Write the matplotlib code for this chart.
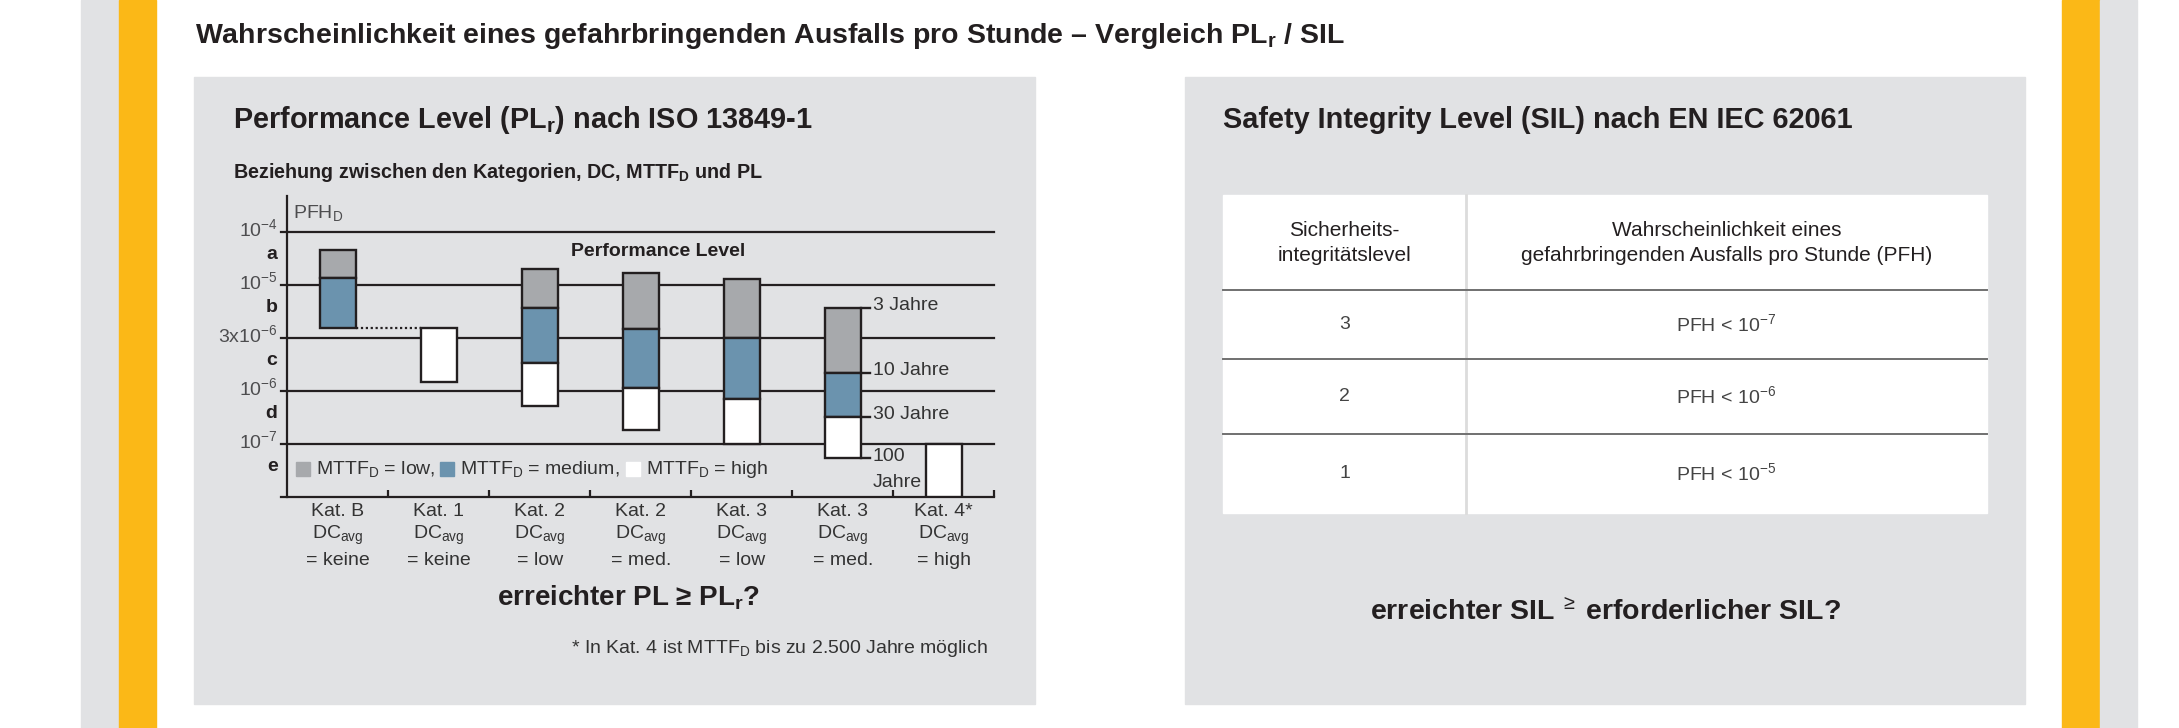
import numpy as np
import matplotlib.pyplot as plt
from matplotlib.patches import Rectangle
from matplotlib.ticker import NullLocator

plt.rcParams['font.family'] = ['Liberation Sans', 'DejaVu Sans']
plt.rcParams['mathtext.fontset'] = 'custom'
plt.rcParams['mathtext.rm'] = 'Liberation Sans'
plt.rcParams['mathtext.it'] = 'Liberation Sans:italic'
plt.rcParams['mathtext.bf'] = 'Liberation Sans:bold'

# Data: categories and PFH_D ranges (upper, lower) per MTTF_D class
categories = ['Kat. B', 'Kat. 1', 'Kat. 2', 'Kat. 2', 'Kat. 3', 'Kat. 3', 'Kat. 4*']
dc_avg = ['keine', 'keine', 'low', 'med.', 'low', 'med.', 'high']
mttf_low = [(4.6e-5, 1.35e-5), None, (2.0e-5, 5.9e-6), (1.7e-5, 3.66e-6),
            (1.3e-5, 3.0e-6), (5.9e-6, 1.45e-6), None]
mttf_med = [(1.35e-5, 3.8e-6), None, (5.9e-6, 1.78e-6), (3.66e-6, 1.07e-6),
            (3.0e-6, 7.1e-7), (1.45e-6, 3.16e-7), None]
mttf_high = [None, (3.8e-6, 1.2e-6), (1.78e-6, 5.2e-7), (1.07e-6, 1.84e-7),
             (7.1e-7, 1.0e-7), (3.16e-7, 5.4e-8), (1.0e-7, 1.0e-8)]
legend_labels = ['low', 'medium', 'high']

pfh_lines = [1e-4, 1e-5, 3e-6, 1e-6, 1e-7]
pfh_line_labels = ['10$^{-4}$', '10$^{-5}$', '3x10$^{-6}$', '10$^{-6}$', '10$^{-7}$']
pl_names = ['a', 'b', 'c', 'd', 'e']
pl_bounds = [1e-4, 1e-5, 3e-6, 1e-6, 1e-7, 1e-8]
mttf_years = ['3 Jahre', '10 Jahre', '30 Jahre', '100\nJahre']

sil_levels = ['3', '2', '1']
sil_pfh_exp = [-7, -6, -5]

# colours
dark = '#231f20'
panel = '#e1e2e4'
yellow = '#fbb817'
c_low = '#a7a9ac'
c_med = '#6b93ae'
c_high = 'white'

# PFH axis: equal spacing between the PL boundaries (log inside each band)
band_pfh = [1e-8, 1e-7, 1e-6, 3e-6, 1e-5, 1e-4, 1e-3]
band_pos = [0, 1, 2, 3, 4, 5, 6]


def fwd(v):
    return np.interp(np.log10(np.clip(v, 1e-12, None)), np.log10(band_pfh), band_pos)


def inv(p):
    return 10 ** np.interp(p, band_pos, np.log10(band_pfh))


W, H = 2179, 728
fig = plt.figure(figsize=(W / 100, H / 100), dpi=100)

# background layer in pixel coordinates
bg = fig.add_axes([0, 0, 1, 1])
bg.set_xlim(0, W)
bg.set_ylim(H, 0)
bg.axis('off')

bg.add_patch(Rectangle((81, 0), 38, H, color=panel))
bg.add_patch(Rectangle((119, 0), 37, H, color=yellow))
bg.add_patch(Rectangle((2062, 0), 38, H, color=yellow))
bg.add_patch(Rectangle((2100, 0), 37, H, color=panel))
bg.add_patch(Rectangle((194, 77), 841, 627, color=panel))
bg.add_patch(Rectangle((1185, 77), 840, 627, color=panel))

bg.text(195, 43, 'Wahrscheinlichkeit eines gefahrbringenden Ausfalls pro Stunde – Vergleich PL$_\\mathbf{r}$ / SIL',
        fontsize=20.5, fontweight='bold', color=dark, va='baseline')
bg.text(233, 128, 'Performance Level (PL$_\\mathbf{r}$) nach ISO 13849-1',
        fontsize=20.8, fontweight='bold', color=dark, va='baseline')
bg.text(233, 178, 'Beziehung zwischen den Kategorien, DC, MTTF$_\\mathbf{D}$ und PL',
        fontsize=14.2, fontweight='bold', color=dark, va='baseline')
bg.text(1223, 128, 'Safety Integrity Level (SIL) nach EN IEC 62061',
        fontsize=20.8, fontweight='bold', color=dark, va='baseline')

# legend row inside the chart
leg_x = [296, 440, 626]
for col, lbl, x in zip([c_low, c_med, c_high], legend_labels, leg_x):
    bg.add_patch(Rectangle((x, 462), 14, 14, color=col, zorder=5))
    bg.text(x + 20, 469, 'MTTF$_\\mathrm{D}$ = ' + lbl + (',' if lbl != 'high' else ''),
            fontsize=14, color='#333333', va='center', zorder=5)

bg.text(629, 605, 'erreichter PL ≥ PL$_\\mathbf{r}$?', fontsize=20, fontweight='bold',
        color=dark, ha='center', va='baseline')
bg.text(988, 653, '* In Kat. 4 ist MTTF$_\\mathrm{D}$ bis zu 2.500 Jahre möglich',
        fontsize=14, color='#333333', ha='right', va='baseline')

# SIL table
bg.add_patch(Rectangle((1223, 195), 764, 318, color='white'))
bg.plot([1466, 1466], [195, 513], color='#dcdcdc', lw=2)
for y in [290, 359, 434]:
    bg.plot([1223, 1987], [y, y], color='#707070', lw=1.4)
bg.text(1344.5, 243, 'Sicherheits-\nintegritätslevel', fontsize=15, color=dark,
        ha='center', va='center', linespacing=1.35)
bg.text(1726.5, 243, 'Wahrscheinlichkeit eines\ngefahrbringenden Ausfalls pro Stunde (PFH)',
        fontsize=15, color=dark, ha='center', va='center', linespacing=1.35)
row_y = [324.5, 396.5, 473.5]
for y, lvl, e in zip(row_y, sil_levels, sil_pfh_exp):
    bg.text(1344.5, y, lvl, fontsize=14, color='#444444', ha='center', va='center')
    bg.text(1726.5, y, 'PFH < 10$^{%d}$' % e, fontsize=14, color='#444444', ha='center', va='center')

bg.text(1605, 620, 'erreichter SIL$\\;{}^{\\geq}\\;$erforderlicher SIL?', fontsize=20.5,
        fontweight='bold', color=dark, ha='center', va='baseline')

# chart axes
ax = fig.add_axes([287.3 / W, 231.3 / H, 707 / W, 300.5 / H])
ax.set_yscale('function', functions=(fwd, inv))
ax.set_xlim(-0.5, 6.5)
ax.set_ylim(1e-8, inv(5.68))
ax.patch.set_alpha(0)
for s in ax.spines.values():
    s.set_visible(False)
ax.set_yticks([])
ax.yaxis.set_minor_locator(NullLocator())
ax.set_xticks(np.arange(0.5, 7, 1))
ax.tick_params(axis='x', direction='in', length=5, width=1.6, color=dark, labelbottom=False)

# PL boundary lines, axis lines
for v in pfh_lines + [1e-8]:
    ax.plot([-0.56, 6.5], [v, v], color=dark, lw=1.6, clip_on=False, zorder=2)
ax.plot([-0.5, -0.5], [1e-8, inv(5.68)], color=dark, lw=1.6, clip_on=False, zorder=2)

for v, lbl in zip(pfh_lines, pfh_line_labels):
    ax.annotate(lbl, xy=(-0.5, v), xytext=(-7, 2), textcoords='offset points',
                ha='right', va='center', fontsize=14, color='#4d4d4f')
for i, name in enumerate(pl_names):
    v = np.sqrt(pl_bounds[i] * pl_bounds[i + 1])
    ax.annotate(name, xy=(-0.5, v), xytext=(-7, 3), textcoords='offset points',
                ha='right', va='center', fontsize=14, fontweight='bold', color=dark)
ax.annotate('PFH$_\\mathrm{D}$', xy=(-0.5, 0.945), xycoords=('data', 'axes fraction'),
            xytext=(4, 0), textcoords='offset points', ha='left', va='center',
            fontsize=14, color='#4d4d4f')
ax.text(3.17, 4.64 / 5.68, 'Performance Level', transform=ax.get_xaxis_transform(),
        ha='center', va='center', fontsize=14, fontweight='bold', color=dark)

# stacked PFH ranges
bar_w = 0.353
for segs, col in [(mttf_low, c_low), (mttf_med, c_med), (mttf_high, c_high)]:
    for i, s in enumerate(segs):
        if s is None:
            continue
        ax.bar(i, s[0] - s[1], bottom=s[1], width=bar_w, color=col,
               edgecolor=dark, linewidth=1.7, zorder=3)

ax.plot([bar_w / 2, 1 - bar_w / 2], [mttf_med[0][1]] * 2, color=dark,
        linestyle=(0, (1, 1.2)), lw=1.6, zorder=2)

# MTTF_D years at Kat. 3 / med.
k = 5
edges = [mttf_low[k][0], mttf_low[k][1], mttf_med[k][1], mttf_high[k][1]]
for v, lbl in zip(edges, mttf_years):
    ax.plot([k + bar_w / 2, k + 0.27], [v, v], color=dark, lw=1.7, zorder=3, clip_on=False)
    if '\n' in lbl:
        ax.annotate(lbl, xy=(k + 0.27, v), xytext=(2, 7), textcoords='offset points',
                    ha='left', va='top', fontsize=14, color='#333333', linespacing=1.7)
    else:
        ax.annotate(lbl, xy=(k + 0.27, v), xytext=(2, 2), textcoords='offset points',
                    ha='left', va='center', fontsize=14, color='#333333')

# category labels
for i, (cat, dc) in enumerate(zip(categories, dc_avg)):
    for txt, dy in [(cat, -11), ('DC$_\\mathrm{avg}$', -28), ('= ' + dc, -45.6)]:
        ax.annotate(txt, xy=(i, 0), xycoords=('data', 'axes fraction'), xytext=(0, dy),
                    textcoords='offset points', ha='center', va='center',
                    fontsize=14, color='#333333')

plt.savefig('out.png', dpi=100)
